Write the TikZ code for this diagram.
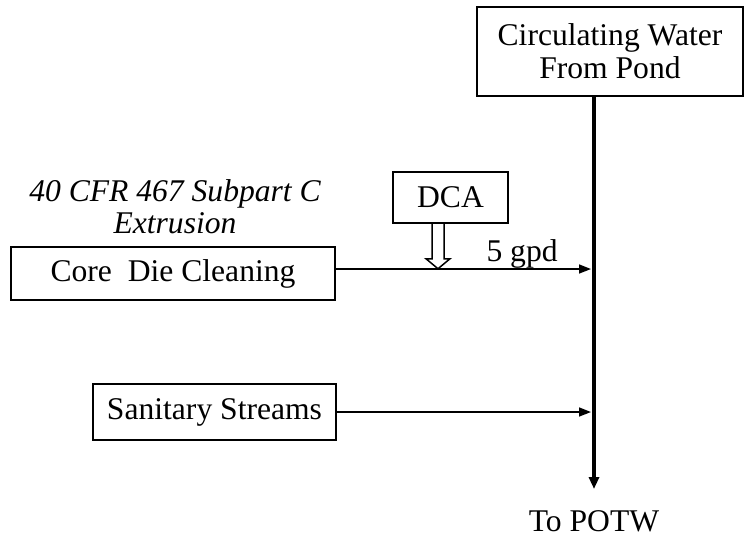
\documentclass[tikz,border=0pt]{standalone}
\usepackage{fontspec}
\setmainfont{Liberation Serif}
\usetikzlibrary{positioning,arrows.meta}

\begin{document}
\begin{tikzpicture}[
    x=0.5pt, y=-0.5pt,
    font=\fontsize{15.8}{16.5}\selectfont,
    box/.style={draw, line width=0.75pt, inner sep=0pt, align=center},
    arr/.style={-{Triangle[length=6pt,width=4.5pt]}, line width=0.75pt},
    main/.style={-{Triangle[length=6pt,width=5pt]}, line width=1.6pt},
    hollow/.style={line width=0.75pt, line join=miter}
  ]
    \useasboundingbox (0,0) rectangle (746,538);
    % sources
    \node[box, minimum width=133pt, minimum height=44.5pt] (W) at (610,51.5)
      {Circulating Water\\From Pond};
    \node[box, minimum width=57.5pt, minimum height=25.5pt] (DCA) at (450.5,197.5) {DCA};
    \node[box, minimum width=162pt, minimum height=26.5pt] (CDC) at (173,273.5)
      {Core\ \ Die Cleaning};
    \node[font=\fontsize{15.8}{16}\selectfont\itshape, align=center] (sub) at (175,207)
      {40 CFR 467 Subpart C\\Extrusion};
    \node[box, minimum width=121.5pt, minimum height=28pt] (SS) at (214.5,412)
      {Sanitary Streams};
    % main line down to the outfall
    \coordinate (out) at (594,489);
    \coordinate (j1) at (591,269);
    \coordinate (j2) at (591,412);
    \node[below=7pt of out] (POTW) {To POTW};
    \draw[main] (W.south -| out) -- (out);
    \draw[arr] (CDC.east |- j1) --
      node[above, inner sep=0pt, pos=0.73] (gpd) {5 gpd} (j1);
    \draw[arr] (SS) -- (j2);
    % chemical addition
    \draw[hollow] ([xshift=-9.25pt]DCA.south) -- ++(0,35) -- ++(-6,0)
      -- ++(12,10) -- ++(12,-10) -- ++(-6,0) -- ++(0,-35);
\end{tikzpicture}
\end{document}
